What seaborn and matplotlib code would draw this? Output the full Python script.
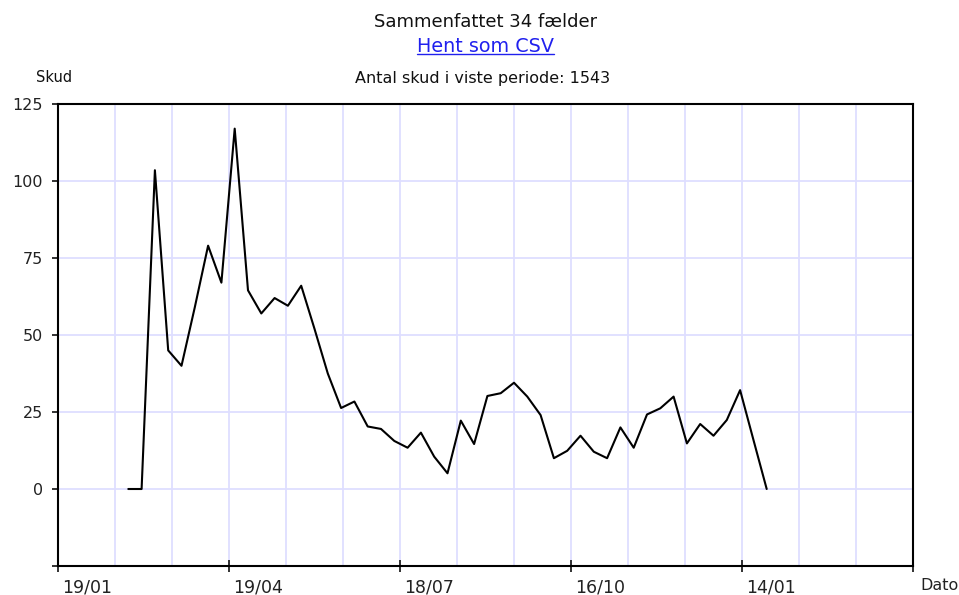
import datetime as dt

import matplotlib
matplotlib.use('Agg')
import matplotlib.pyplot as plt
from matplotlib.lines import Line2D
from matplotlib.transforms import ScaledTranslation
import pandas as pd
import seaborn as sns

sns.set_style('white')
plt.rcParams['font.family'] = ['DejaVu Sans']

# %% data - antal skud pr. uge
startDato = '2019-02-25'
skud = [0, 0, 103.5, 45, 40, 59, 79, 67, 117, 64.5, 57, 62, 59.5, 66,
        52, 37.5, 26.3, 28.4, 20.3, 19.5, 15.6, 13.4, 18.3, 10.5, 5.1, 22.2, 14.6,
        30.2, 31.1, 34.5, 30, 24, 10, 12.4, 17.3, 12.1, 10, 20, 13.4, 24.2, 26.2, 30,
        14.8, 21.1, 17.3, 22.4, 32.1, 16, 0]
xTickDatoer = ['2019-01-19', '2019-04-19', '2019-07-18', '2019-10-16', '2020-01-14', '2020-04-13']
xTickLabels = ['19/01', '19/04', '18/07', '16/10', '14/01', '']
yTicks = [-25, 0, 25, 50, 75, 100, 125]
yTickLabels = ['', '0', '25', '50', '75', '100', '125']

df = pd.DataFrame({'Dato': pd.date_range(startDato, periods=len(skud), freq='7D'),
                   'Skud': skud})

# %% plot
fig = plt.figure(figsize=(9.59, 5.95), dpi=100)
ax = fig.add_axes([58 / 959, 29 / 595, 855 / 959, 462 / 595])

sns.lineplot(x='Dato', y='Skud', data=df, color='black', linewidth=1.5, ax=ax)

start = pd.Timestamp(xTickDatoer[0])
slut = pd.Timestamp(xTickDatoer[-1])
ax.set_xlim(start, slut)
ax.set_ylim(-25, 125)

ax.set_xticks(pd.to_datetime(xTickDatoer))
ax.set_xticklabels(xTickLabels)
ax.set_xticks(pd.date_range(start, slut, freq='30D'), minor=True)
ax.set_yticks(yTicks)
ax.set_yticklabels(yTickLabels)

gridFarve = '#dedeff'
ax.grid(True, which='both', axis='x', color=gridFarve, linewidth=1.3)
ax.grid(True, which='major', axis='y', color=gridFarve, linewidth=1.3)
ax.set_axisbelow(True)

for s in ax.spines.values():
    s.set_color('black')
    s.set_linewidth(1.5)

ax.tick_params(axis='y', which='major', left=True, direction='out', length=4,
               width=1.3, pad=7, labelsize=11.5, colors='#222222')
ax.tick_params(axis='x', which='major', bottom=True, direction='inout', length=8,
               width=1.3, pad=5, labelsize=12.5, colors='#222222')
ax.tick_params(axis='x', which='minor', bottom=False, length=0)
ax.set_xlabel('')
ax.set_ylabel('')

for lbl in ax.get_xticklabels():
    lbl.set_ha('left')
    lbl.set_transform(lbl.get_transform() + ScaledTranslation(4 / 100, 0, fig.dpi_scale_trans))

# tekster
midt = (58 + 913) / 2 / 959
fig.text(midt, 1 - 22 / 595, 'Sammenfattet 34 fælder', ha='center', va='center',
         fontsize=13, color='#111111')
link = fig.text(midt, 1 - 47 / 595, 'Hent som CSV', ha='center', va='center',
                fontsize=13.8, color='#2020ee')
fig.text(midt - 3 / 959, 1 - 78 / 595, 'Antal skud i viste periode: 1543', ha='center',
         va='center', fontsize=11.5, color='#111111')
fig.text(36 / 959, 1 - 78 / 595, 'Skud', ha='left', va='center', fontsize=10.5,
         color='#111111')
fig.text(920 / 959, 1 - 586 / 595, 'Dato', ha='left', va='center', fontsize=11.5,
         color='#222222')

# understregning af linket
fig.canvas.draw()
bb = link.get_window_extent().transformed(fig.transFigure.inverted())
fig.add_artist(Line2D([bb.x0, bb.x1], [bb.y0 + 0.004, bb.y0 + 0.004],
                      transform=fig.transFigure, color='#2020ee', linewidth=1))

plt.savefig('out.png', dpi=100)
